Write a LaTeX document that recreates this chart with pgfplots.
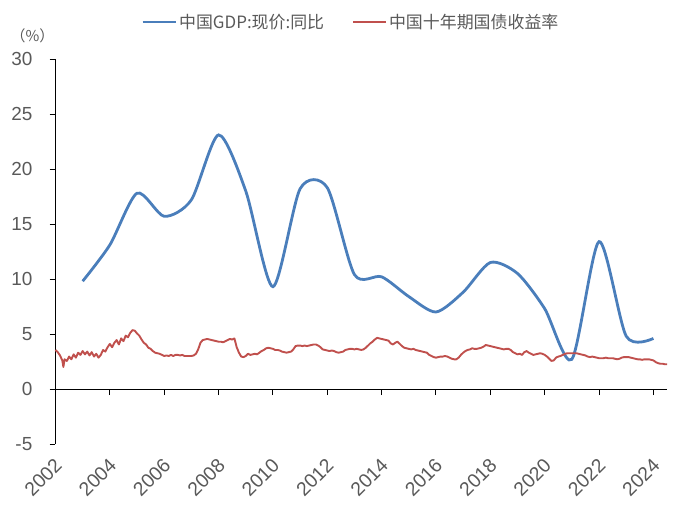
\documentclass[border=0pt]{standalone}
\usepackage{pgfplots}
\pgfplotsset{compat=1.18}
\usepackage{pgfplotstable}
\usepackage{fontspec}
\setmainfont{Liberation Sans}
\newfontfamily\cjk{Noto Sans CJK SC}
\definecolor{gdpblue}{HTML}{4A7EBB}
\definecolor{bondred}{HTML}{C0504D}
\definecolor{txtgray}{HTML}{595959}

\pgfplotstableread{
x y
2003 9.8
2004 13.1
2005 17.8
2006 15.7
2007 17.2
2008 23.1
2009 18.0
2010 9.3
2011 18.2
2012 18.3
2013 10.4
2014 10.2
2015 8.4
2016 7.0
2017 8.8
2018 11.5
2019 10.5
2020 7.3
2021 2.7
2022 13.4
2023 4.8
2024 4.6
}\gdptable

\pgfplotstableread{
x y
2002.000 3.55
2002.083 3.35
2002.167 3.05
2002.250 2.6
2002.290 2.0
2002.333 2.7
2002.417 2.55
2002.500 2.95
2002.583 2.7
2002.667 3.15
2002.750 2.85
2002.833 3.3
2002.917 3.1
2003.000 3.45
2003.083 3.15
2003.167 3.4
2003.250 3.05
2003.333 3.35
2003.417 2.95
2003.500 3.2
2003.583 2.85
2003.667 3.1
2003.750 3.55
2003.833 3.4
2003.917 3.8
2004.000 4.1
2004.083 3.8
2004.167 4.2
2004.250 4.45
2004.333 4.05
2004.417 4.6
2004.500 4.35
2004.583 4.85
2004.667 4.7
2004.750 5.1
2004.833 5.35
2004.917 5.3
2005.000 5.05
2005.083 4.85
2005.167 4.5
2005.250 4.2
2005.333 4.05
2005.417 3.75
2005.500 3.65
2005.583 3.45
2005.667 3.3
2005.750 3.25
2005.833 3.2
2005.917 3.1
2006.000 3.0
2006.083 3.05
2006.167 3.0
2006.250 3.1
2006.333 3.0
2006.417 3.1
2006.500 3.1
2006.583 3.05
2006.667 3.1
2006.750 3.0
2006.833 3.0
2006.917 3.0
2007.000 3.0
2007.083 3.05
2007.167 3.2
2007.250 3.6
2007.333 4.2
2007.417 4.45
2007.500 4.5
2007.583 4.55
2007.667 4.5
2007.750 4.45
2007.833 4.4
2007.917 4.35
2008.000 4.3
2008.083 4.3
2008.167 4.25
2008.250 4.35
2008.333 4.45
2008.417 4.55
2008.500 4.5
2008.583 4.6
2008.667 3.8
2008.750 3.3
2008.833 2.95
2008.917 2.9
2009.000 3.0
2009.083 3.2
2009.167 3.1
2009.250 3.15
2009.333 3.2
2009.417 3.15
2009.500 3.3
2009.583 3.45
2009.667 3.55
2009.750 3.7
2009.833 3.75
2009.917 3.7
2010.000 3.65
2010.083 3.55
2010.167 3.55
2010.250 3.5
2010.333 3.4
2010.417 3.35
2010.500 3.3
2010.583 3.35
2010.667 3.4
2010.750 3.6
2010.833 3.9
2010.917 3.95
2011.000 3.95
2011.083 3.9
2011.167 3.95
2011.250 3.9
2011.333 3.95
2011.417 4.0
2011.500 4.05
2011.583 4.05
2011.667 3.95
2011.750 3.8
2011.833 3.6
2011.917 3.55
2012.000 3.5
2012.083 3.45
2012.167 3.5
2012.250 3.45
2012.333 3.35
2012.417 3.3
2012.500 3.35
2012.583 3.4
2012.667 3.55
2012.750 3.6
2012.833 3.65
2012.917 3.65
2013.000 3.6
2013.083 3.65
2013.167 3.6
2013.250 3.55
2013.333 3.6
2013.417 3.75
2013.500 3.95
2013.583 4.15
2013.667 4.3
2013.750 4.5
2013.833 4.65
2013.917 4.6
2014.000 4.55
2014.083 4.5
2014.167 4.45
2014.250 4.4
2014.333 4.15
2014.417 4.05
2014.500 4.2
2014.583 4.3
2014.667 4.1
2014.750 3.9
2014.833 3.75
2014.917 3.7
2015.000 3.65
2015.083 3.6
2015.167 3.65
2015.250 3.55
2015.333 3.5
2015.417 3.45
2015.500 3.4
2015.583 3.35
2015.667 3.3
2015.750 3.1
2015.833 3.0
2015.917 2.9
2016.000 2.85
2016.083 2.9
2016.167 2.95
2016.250 2.95
2016.333 3.0
2016.417 2.95
2016.500 2.85
2016.583 2.75
2016.667 2.7
2016.750 2.7
2016.833 2.85
2016.917 3.1
2017.000 3.3
2017.083 3.45
2017.167 3.55
2017.250 3.6
2017.333 3.7
2017.417 3.65
2017.500 3.65
2017.583 3.7
2017.667 3.75
2017.750 3.85
2017.833 4.0
2017.917 3.95
2018.000 3.9
2018.083 3.85
2018.167 3.8
2018.250 3.75
2018.333 3.7
2018.417 3.65
2018.500 3.6
2018.583 3.65
2018.667 3.65
2018.750 3.55
2018.833 3.35
2018.917 3.25
2019.000 3.15
2019.083 3.2
2019.167 3.1
2019.250 3.35
2019.333 3.45
2019.417 3.3
2019.500 3.2
2019.583 3.1
2019.667 3.15
2019.750 3.2
2019.833 3.25
2019.917 3.2
2020.000 3.1
2020.083 2.95
2020.167 2.75
2020.250 2.55
2020.333 2.6
2020.417 2.85
2020.500 2.95
2020.583 3.0
2020.667 3.1
2020.750 3.2
2020.833 3.25
2020.917 3.25
2021.000 3.25
2021.083 3.25
2021.167 3.25
2021.250 3.2
2021.333 3.15
2021.417 3.1
2021.500 3.05
2021.583 2.95
2021.667 2.9
2021.750 2.95
2021.833 2.9
2021.917 2.85
2022.000 2.8
2022.083 2.8
2022.167 2.8
2022.250 2.85
2022.333 2.8
2022.417 2.8
2022.500 2.8
2022.583 2.75
2022.667 2.7
2022.750 2.75
2022.833 2.85
2022.917 2.9
2023.000 2.9
2023.083 2.9
2023.167 2.85
2023.250 2.8
2023.333 2.75
2023.417 2.7
2023.500 2.7
2023.583 2.65
2023.667 2.7
2023.750 2.7
2023.833 2.7
2023.917 2.65
2024.000 2.6
2024.083 2.45
2024.167 2.35
2024.250 2.3
2024.333 2.3
2024.417 2.25
2024.500 2.25
}\bondtable

\begin{document}
\begin{tikzpicture}
% zero line with downward ticks
\begin{axis}[
  scale only axis, width=611.5bp, height=385bp,
  xmin=2002, xmax=2024.5, ymin=-5, ymax=30,
  axis x line=middle, hide y axis,
  axis line style={-, black, line width=1bp},
  xtick={2002,2004,...,2024}, xticklabels={},
  tick align=outside, major tick length=6bp,
  xtick style={black, line width=1bp},
]
\end{axis}
\begin{axis}[
  name=main,
  scale only axis, width=611.5bp, height=385bp,
  xmin=2002, xmax=2024.5, ymin=-5, ymax=30,
  axis lines=left,
  axis line style={-},
  x axis line style={draw=none},
  y axis line style={black, line width=1bp},
  tick align=outside, major tick length=6bp,
  xtick style={draw=none},
  ytick style={black, line width=1bp},
  ytick={-5,0,...,30},
  xtick={2002,2004,...,2024},
  xticklabels={2002,2004,2006,2008,2010,2012,2014,2016,2018,2020,2022,2024},
  /pgf/number format/assume math mode=true,
  tick label style={text=txtgray, font=\fontsize{19}{19}\selectfont},
  yticklabel style={inner sep=0pt, anchor=east, xshift=-17bp},
  xticklabel style={inner sep=0pt, anchor=east, xshift=3bp, yshift=-12bp, rotate=45, font=\fontsize{19.5}{19.5}\selectfont},
  legend columns=2,
  legend style={at={(0.483,1.096)}, anchor=center, draw=none, fill=none,
    font=\cjk\fontsize{17}{17}\selectfont, text=txtgray,
    /tikz/every even column/.append style={column sep=26bp},
    inner sep=0pt},
  legend image code/.code={\draw[#1] (0bp,0bp) -- (33bp,0bp);},
  clip=false,
]
\addplot[gdpblue, line width=2.8bp, smooth, tension=0.45] table[x=x,y=y]{\gdptable};
\addlegendentry{中国GDP:现价:同比}
\addplot[bondred, line width=1.9bp, line join=round] table[x=x,y=y]{\bondtable};
\addlegendentry{中国十年期国债收益率}
\end{axis}
\node[text=txtgray, font=\cjk\fontsize{15}{15}\selectfont] at ([xshift=-23bp,yshift=23bp]main.north west) {（\%）};
\pgfresetboundingbox
\path[use as bounding box] ([xshift=-55.5bp,yshift=-71bp]main.south west) rectangle ([xshift=644.5bp,yshift=444bp]main.south west);
\end{tikzpicture}
\end{document}
